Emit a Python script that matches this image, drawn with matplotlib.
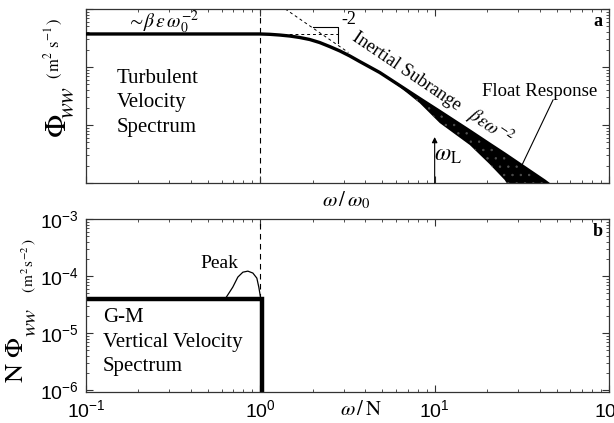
import numpy as np
import matplotlib
matplotlib.use("Agg")
import matplotlib.pyplot as plt
from matplotlib.ticker import LogLocator, NullFormatter, FixedLocator, FuncFormatter

plt.rcParams['font.family'] = ['Liberation Serif', 'DejaVu Serif']
plt.rcParams['mathtext.fontset'] = 'stix'
plt.rcParams['hatch.linewidth'] = 0.5

# ---------------- data ----------------
# Panel a: turbulent velocity spectrum (omega/omega0, Phi_ww, arbitrary units)
turb_omega = [0.1, 1.0, 1.133, 1.29, 1.476, 1.68, 1.92, 2.19, 2.50, 2.86, 3.26, 3.72, 4.24, 4.84,
              6.30, 8.20, 10.7, 15.9, 20.6, 25.2, 42.7, 59.4]
turb_phi = [0.371, 0.371, 0.366, 0.356, 0.342, 0.323, 0.298, 0.264, 0.225, 0.189, 0.155, 0.124, 0.100, 0.0804,
            0.048, 0.0286, 0.0171, 0.00788, 0.0047, 0.00316, 0.00108, 0.00051]
# float response band (upper = spectrum, lower = float response)
band_omega = [4.84, 6.30, 8.20, 10.7, 15.9, 20.6, 25.2, 42.7, 59.4]
band_upper = [0.0804, 0.048, 0.0286, 0.0171, 0.00788, 0.0047, 0.00316, 0.00108, 0.00051]
band_lower = [0.0800, 0.0452, 0.0239, 0.0108, 0.00452, 0.00213, 0.00113, 0.0001, 0.00003]
# -2 asymptote and slope triangle
asym_omega = [1.39, 3.2]
asym_phi = [1.0, 0.178]
flat_ext_omega = [1.0, 2.78]
flat_level = 0.371
tri_omega = [2.0, 2.78, 2.78]
tri_phi = [0.49, 0.49, 0.26]
omega_L = 10.0
omega_L_arrow_top = 0.0062

# Panel b: G-M vertical velocity spectrum
gm_omega = [0.1, 1.02]
gm_level = 3.9e-5
peak_omega = [0.626, 0.695, 0.743, 0.794, 0.848, 0.906, 0.955, 0.980, 1.007]
peak_phi = [3.9e-5, 6.4e-5, 9.6e-5, 1.17e-4, 1.22e-4, 1.13e-4, 9.2e-5, 6.4e-5, 3.9e-5]
yticks_b = [1e-6, 1e-5, 1e-4, 1e-3]
xticks_b = [0.1, 1, 10, 100]

# ---------------- figure ----------------
W, H = 614, 423
fig = plt.figure(figsize=(W / 100, H / 100), dpi=100)

def box(l, t, r, b):
    return [l / W, 1 - b / H, (r - l) / W, (b - t) / H]

def fp(x, y):
    return (x / W, 1 - y / H)

axa = fig.add_axes(box(86, 9, 609, 183))
axb = fig.add_axes(box(86, 219, 609, 392))

for ax in (axa, axb):
    ax.set_xscale('log')
    ax.set_yscale('log')
    ax.set_xlim(0.1, 100)
    ax.tick_params(which='both', direction='in', top=True, right=True, color='#333333')
    ax.tick_params(which='major', length=5, width=0.8)
    ax.tick_params(which='minor', length=2.5, width=0.6)
    ax.xaxis.set_minor_locator(LogLocator(base=10, subs=np.arange(2, 10)))
    ax.yaxis.set_minor_locator(LogLocator(base=10, subs=np.arange(2, 10)))
    for s in ax.spines.values():
        s.set_linewidth(0.9)
        s.set_color('#333333')

# ----- panel a -----
axa.set_ylim(1e-3, 1)
axa.xaxis.set_major_formatter(NullFormatter())
axa.xaxis.set_minor_formatter(NullFormatter())
axa.yaxis.set_major_formatter(NullFormatter())
axa.yaxis.set_minor_formatter(NullFormatter())

axa.fill_between(band_omega, band_lower, band_upper, facecolor='black',
                 edgecolor='#505050', hatch='..', linewidth=0, zorder=2)
axa.plot(turb_omega, turb_phi, color='black', lw=2.4, zorder=3, solid_capstyle='butt',
         solid_joinstyle='round')
axa.axvline(1.0, color='black', lw=0.8, dashes=(5, 4), zorder=1)
axa.plot(asym_omega, asym_phi, color='black', lw=0.7, dashes=(3, 3))
axa.plot(flat_ext_omega, [flat_level, flat_level], color='black', lw=0.7, dashes=(3, 3))
axa.plot(tri_omega, tri_phi, color='black', lw=0.8)

axa.annotate('', xy=(omega_L, omega_L_arrow_top), xytext=(omega_L, 1e-3),
             arrowprops=dict(arrowstyle='-|>', color='black', lw=0.8, mutation_scale=8,
                             shrinkA=0, shrinkB=0))

# texts panel a
fig.text(*fp(163, 22), r'$\sim\!\beta\,\varepsilon\,\omega_0^{-2}$', fontsize=14, ha='center', va='center')
fig.text(*fp(117, 103), 'Turbulent\nVelocity\nSpectrum', fontsize=15, ha='left', va='center', linespacing=1.38)
fig.text(*fp(349, 19), '-2', fontsize=13, ha='center', va='center')
fig.text(*fp(407, 72), 'Inertial Subrange', fontsize=13.2, ha='center', va='center', rotation=-34,
         rotation_mode='anchor')
fig.text(*fp(491, 127), r'$\beta\varepsilon\omega^{-2}$', fontsize=13.5, ha='center', va='center', rotation=-34,
         rotation_mode='anchor')
fig.text(*fp(540, 91), 'Float Response', fontsize=13.5, ha='center', va='center')
fig.add_artist(plt.Line2D([553 / W, 522 / W], [1 - 100 / H, 1 - 165 / H], color='black', lw=0.8))
fig.text(*fp(448, 155), r'$\omega_{\mathrm{L}}$', fontsize=17, ha='center', va='center')
fig.text(*fp(598, 21), 'a', fontsize=13, fontweight='bold', ha='center', va='center')
fig.text(*fp(346, 200), r'$\omega\,/\,\omega_0$', fontsize=15, ha='center', va='center')

# y label panel a
fig.text(*fp(58, 126), r'$\Phi$', fontsize=22, rotation=90, ha='center', va='center')
fig.text(*fp(69, 102), r'$\mathit{ww}$', fontsize=17, rotation=90, ha='center', va='center')
fig.text(*fp(54, 48), r'$(\,\mathrm{m}^2\ \mathrm{s}^{-1}\,)$', fontsize=12, rotation=90, ha='center', va='center')

# ----- panel b -----
axb.set_ylim(1e-6 * 0.93, 1e-3)
axb.xaxis.set_major_locator(FixedLocator(xticks_b))
axb.yaxis.set_major_locator(FixedLocator(yticks_b))
fmt = FuncFormatter(lambda v, p: r'$\mathregular{10^{%d}}$' % int(round(np.log10(v))))
axb.xaxis.set_major_formatter(fmt)
axb.yaxis.set_major_formatter(fmt)
axb.xaxis.set_minor_formatter(NullFormatter())
axb.yaxis.set_minor_formatter(NullFormatter())
axb.tick_params(which='major', labelsize=14, pad=5)
for lab in axb.get_xticklabels() + axb.get_yticklabels():
    lab.set_fontfamily(['Liberation Sans', 'DejaVu Sans'])

axb.plot([1.0, 1.0], [gm_level, 1e-3], color='black', lw=0.8, dashes=(5, 4))
axb.plot(peak_omega, peak_phi, color='black', lw=0.9)
axb.plot([gm_omega[0], gm_omega[1], gm_omega[1]], [gm_level, gm_level, 1e-7], color='black', lw=3.2,
         solid_joinstyle='miter')

fig.text(*fp(219, 264), 'Peak', fontsize=14, ha='center', va='center')
fig.text(*fp(103, 342), 'G-M\nVertical Velocity\nSpectrum', fontsize=15, ha='left', va='center', linespacing=1.38)
fig.text(*fp(598, 231), 'b', fontsize=13, fontweight='bold', ha='center', va='center')
fig.text(*fp(361, 410), r'$\omega\,/\,\mathrm{N}$', fontsize=15, ha='center', va='center')

# y label panel b
fig.text(*fp(17, 360), r'$\mathrm{N}\ \Phi$', fontsize=19, rotation=90, ha='center', va='center')
fig.text(*fp(31, 322), r'$\mathit{ww}$', fontsize=15, rotation=90, ha='center', va='center')
fig.text(*fp(29, 266), r'$(\,\mathrm{m}^2\,\mathrm{s}^{-2}\,)$', fontsize=11, rotation=90, ha='center', va='center')

fig.savefig('out.png', dpi=100)
